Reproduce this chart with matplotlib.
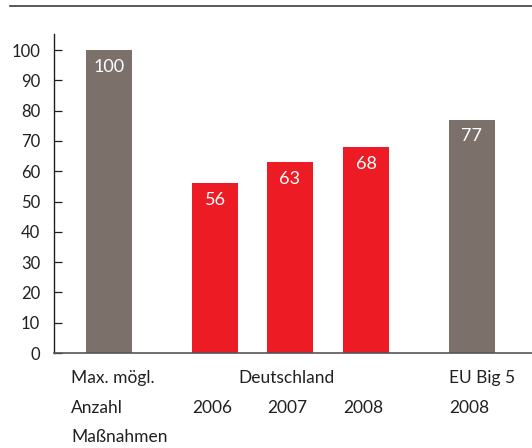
import matplotlib
matplotlib.use("Agg")
import matplotlib.pyplot as plt
from matplotlib.lines import Line2D

plt.rcParams['font.family'] = ['Lato', 'DejaVu Sans']

# data
values = [100, 56, 63, 68, 77]
value_labels = ['100', '56', '63', '68', '77']
bar_colors = ['#7b706a', '#ed1c24', '#ed1c24', '#ed1c24', '#7b706a']
# label rows under each bar (None = empty)
label_rows = [
    ['Max. mögl.', 'Anzahl', 'Maßnahmen'],
    [None, '2006'],
    ['Deutschland', '2007'],
    [None, '2008'],
    ['EU Big 5', '2008'],
]
yticks = [0, 10, 20, 30, 40, 50, 60, 70, 80, 90, 100]

# layout (x in pixel-like units from the y axis)
centers = [55, 161, 236, 312, 418]
width = 46
TXT = '#231f20'

fig = plt.figure(figsize=(5.32, 4.48), dpi=100)
ax = fig.add_axes([54/532, 1 - 353/448, 1 - 54/532, (353 - 34)/448])

ax.bar(centers, values, width=width, color=bar_colors, zorder=2)
for c, v, lab in zip(centers, values, value_labels):
    ax.annotate(lab, xy=(c, v), xytext=(0, -12), textcoords='offset points',
                ha='center', va='center', color='white', fontsize=13)

ax.set_xlim(0, 478)
ax.set_ylim(0, 105.3)
ax.set_yticks(yticks)
ax.set_yticklabels([str(t) for t in yticks], fontsize=12, color=TXT)
ax.tick_params(axis='y', direction='in', length=6, width=0.9, color=TXT, pad=10)
ax.set_xticks([])

for s in ['top', 'right']:
    ax.spines[s].set_visible(False)
ax.spines['left'].set_color(TXT)
ax.spines['left'].set_linewidth(1.0)
ax.spines['bottom'].set_color('#555555')
ax.spines['bottom'].set_linewidth(1.2)

# category labels under the bars
row_offsets = [-25, -55, -84]
for i, (c, rows) in enumerate(zip(centers, label_rows)):
    for r, txt in enumerate(rows):
        if txt is None:
            continue
        x = c - width / 2
        if txt == 'Deutschland':
            x = c - 52
        if i == 0:
            x = c - 38
        ax.annotate(txt, xy=(x, 0), xycoords=('data', 'axes fraction'),
                    xytext=(0, row_offsets[r] * 0.72), textcoords='offset points',
                    ha='left', va='center', fontsize=12.5, color=TXT,
                    annotation_clip=False)

# top rule
fig.add_artist(Line2D([10/532, 1], [1 - 6/448, 1 - 6/448], color='#3c3c3c', lw=1.2))

fig.savefig('out.png', dpi=100)
